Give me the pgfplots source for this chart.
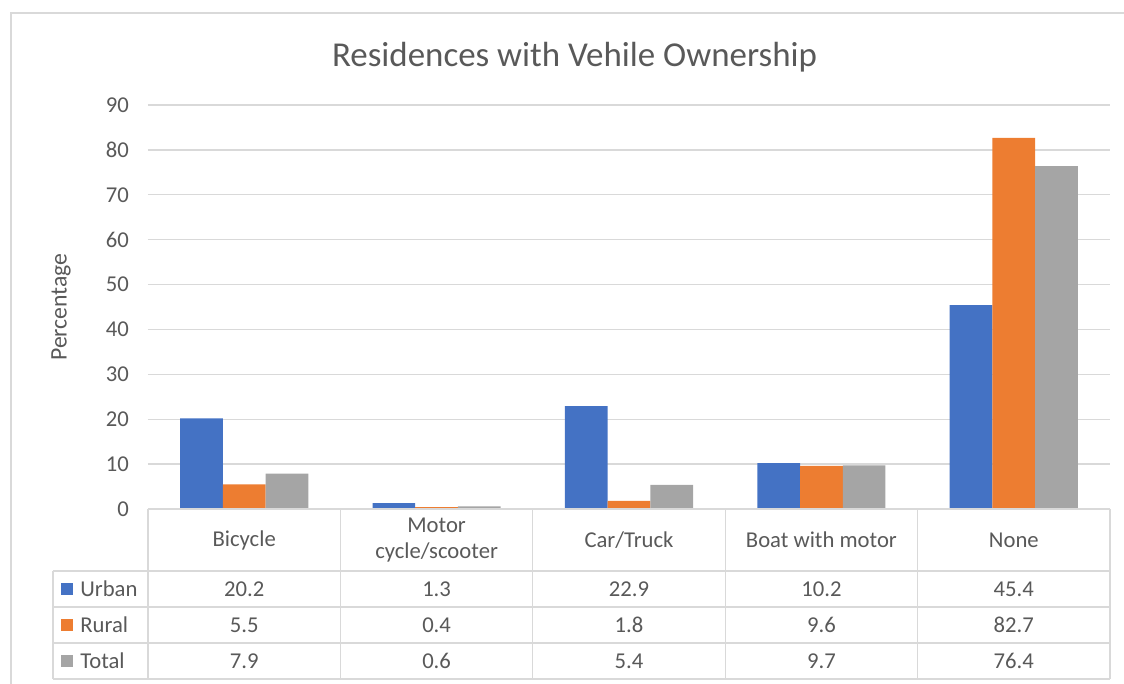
\documentclass[border=0pt]{standalone}
\usepackage{pgfplots}
\pgfplotsset{compat=1.18}
\usepackage{pgfplotstable}
\usepackage{fontspec}
\setmainfont{Carlito}
\definecolor{cUrban}{HTML}{4472C4}
\definecolor{cRural}{HTML}{ED7D31}
\definecolor{cTotal}{HTML}{A5A5A5}
\definecolor{txt}{HTML}{595959}
\definecolor{grd}{HTML}{D9D9D9}

\pgfplotstableread{
x urban rural total
0 20.2 5.5 7.9
1 1.3 0.4 0.6
2 22.9 1.8 5.4
3 10.2 9.6 9.7
4 45.4 82.7 76.4
}\data

\newcommand{\fs}{\fontsize{17}{19.5}\selectfont}

\begin{document}
\begin{tikzpicture}
\begin{pgfinterruptboundingbox}
\begin{axis}[
  scale only axis, width=721.5pt, height=303pt,
  xmin=-0.5, xmax=4.5, ymin=0, ymax=90,
  clip=false,
  axis line style={draw=none},
  ytick={0,10,...,90},
  ymajorgrids, grid style={grd, line width=1pt},
  major tick length=0pt,
  xtick={0,...,4},
  xticklabels={Bicycle, {Motor\\cycle/scooter}, Car/Truck, Boat with motor, None},
  xticklabel style={anchor=center, yshift=-23.25pt, align=center, font=\fs, text=txt},
  yticklabel style={font=\fs, text=txt, xshift=-10.8pt},
  /pgf/number format/assume math mode=true,
  ylabel={Percentage},
  ylabel style={at={(axis description cs:-0.0904,0.5)}, anchor=center, font=\fontsize{17.8}{20}\selectfont, text=txt},
  title={Residences with Vehile Ownership},
  title style={at={(axis description cs:0.4434,1.0767)}, anchor=base, font=\fontsize{26.2}{30}\selectfont, text=txt},
  bar width=0.222,
]
\addplot[ybar, bar shift=-0.222, fill=cUrban, draw=none] table[x=x, y=urban] {\data};
\addplot[ybar, bar shift=0, fill=cRural, draw=none] table[x=x, y=rural] {\data};
\addplot[ybar, bar shift=0.222, fill=cTotal, draw=none] table[x=x, y=total] {\data};

% table grid
\draw[grd, line width=1pt] (axis cs:-0.5,0) -- (axis cs:4.5,0);
\draw[grd, line width=1pt] (axis cs:-0.9938,-13.81) -- (axis cs:4.5,-13.81);
\draw[grd, line width=1pt] (axis cs:-0.9938,-21.83) -- (axis cs:4.5,-21.83);
\draw[grd, line width=1pt] (axis cs:-0.9938,-29.85) -- (axis cs:4.5,-29.85);
\draw[grd, line width=1pt] (axis cs:-0.9938,-37.87) -- (axis cs:4.5,-37.87);
\draw[grd, line width=1pt] (axis cs:-0.9938,-13.81) -- (axis cs:-0.9938,-37.87);
\draw[grd, line width=1pt] (axis cs:-0.5,0) -- (axis cs:-0.5,-37.87);
\draw[grd, line width=1pt] (axis cs:0.5,0) -- (axis cs:0.5,-37.87);
\draw[grd, line width=1pt] (axis cs:1.5,0) -- (axis cs:1.5,-37.87);
\draw[grd, line width=1pt] (axis cs:2.5,0) -- (axis cs:2.5,-37.87);
\draw[grd, line width=1pt] (axis cs:3.5,0) -- (axis cs:3.5,-37.87);
\draw[grd, line width=1pt] (axis cs:4.5,0) -- (axis cs:4.5,-37.87);

% table values
\addplot[draw=none, mark=none, forget plot, point meta=explicit,
  nodes near coords={\pgfmathprintnumber[fixed,fixed zerofill,precision=1]{\pgfplotspointmeta}},
  nodes near coords style={anchor=center, font=\fs, text=txt}]
  table[x=x, y expr=-17.82, meta=urban] {\data};
\addplot[draw=none, mark=none, forget plot, point meta=explicit,
  nodes near coords={\pgfmathprintnumber[fixed,fixed zerofill,precision=1]{\pgfplotspointmeta}},
  nodes near coords style={anchor=center, font=\fs, text=txt}]
  table[x=x, y expr=-25.84, meta=rural] {\data};
\addplot[draw=none, mark=none, forget plot, point meta=explicit,
  nodes near coords={\pgfmathprintnumber[fixed,fixed zerofill,precision=1]{\pgfplotspointmeta}},
  nodes near coords style={anchor=center, font=\fs, text=txt}]
  table[x=x, y expr=-33.86, meta=total] {\data};

% legend keys
\fill[cUrban] (axis cs:-0.921,-17.82) ++(-4.5pt,-4.5pt) rectangle ++(9pt,9pt);
\fill[cRural] (axis cs:-0.921,-25.84) ++(-4.5pt,-4.5pt) rectangle ++(9pt,9pt);
\fill[cTotal] (axis cs:-0.921,-33.86) ++(-4.5pt,-4.5pt) rectangle ++(9pt,9pt);
\node[anchor=west, inner sep=0pt, font=\fs, text=txt] at (axis cs:-0.853,-17.82) {Urban};
\node[anchor=west, inner sep=0pt, font=\fs, text=txt] at (axis cs:-0.853,-25.84) {Rural};
\node[anchor=west, inner sep=0pt, font=\fs, text=txt] at (axis cs:-0.853,-33.86) {Total};
\end{axis}
\end{pgfinterruptboundingbox}
\useasboundingbox (-111pt,-130.5pt) rectangle (732pt,381.75pt);
\draw[grd, line width=1pt] (-102.75pt,-131pt) -- (-102.75pt,372pt) -- (733pt,372pt);
\end{tikzpicture}
\end{document}
